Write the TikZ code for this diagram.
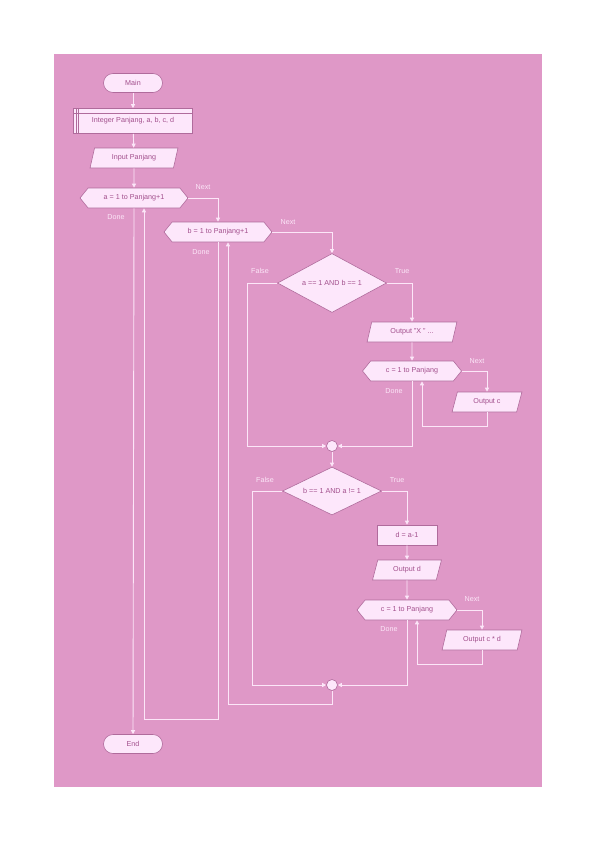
\documentclass[tikz,border=0pt]{standalone}
\usepackage{fontspec}
\setmainfont{Liberation Sans}
\usetikzlibrary{arrows.meta,shapes.geometric,shapes.symbols}
\definecolor{bgpink}{HTML}{DF98C7}
\definecolor{nodefill}{HTML}{FDE7FB}
\definecolor{nodeline}{HTML}{B06B9C}
\definecolor{nodetext}{HTML}{A24F8C}
\definecolor{wire}{HTML}{FCE6F8}
\tikzset{
    box/.style={draw=nodeline, fill=nodefill, text=nodetext, line width=0.6pt, inner sep=1bp,
        font=\fontsize{7.2}{8}\selectfont},
    terminal/.style={box, rectangle, rounded corners=9.5bp, minimum width=59bp, minimum height=19bp},
    declare/.style={box, rectangle, minimum width=119bp, minimum height=25bp,
        path picture={
            \draw[nodeline, line width=0.5pt] ([yshift=-4.5bp]path picture bounding box.north west) -- ([yshift=-4.5bp]path picture bounding box.north east);
            \draw[nodeline, line width=0.5pt] ([xshift=2.5bp]path picture bounding box.north west) -- ([xshift=2.5bp]path picture bounding box.south west);
            \draw[nodeline, line width=0.5pt] ([xshift=4.5bp]path picture bounding box.north west) -- ([xshift=4.5bp]path picture bounding box.south west);
        }},
    io/.style={box, trapezium, trapezium left angle=73, trapezium right angle=107, trapezium stretches=true,
        minimum height=20bp},
    loop/.style={box, signal, signal to=west and east, signal pointer angle=102, minimum height=20bp},
    decision/.style={box, diamond, inner sep=0pt},
    process/.style={box, rectangle, minimum width=60bp, minimum height=20bp},
    joint/.style={box, circle, minimum size=11bp, inner sep=0pt},
    lbl/.style={text=wire, inner sep=0pt, font=\fontsize{7.2}{8}\selectfont},
    wire/.style={draw=wire, line width=0.9pt, -{Triangle[length=4bp, width=4bp]}},
}
\begin{document}
\begin{tikzpicture}[x=1bp, y=-1bp]
    \useasboundingbox[fill=white] (0,0) rectangle (596,842);
    \fill[bgpink] (54,54) rectangle (542,787);

    \path (133,83)  node[terminal](main)  {Main};
    \path (133,121) node[declare](decl)   {Integer Panjang, a, b, c, d};
    \path (134,158) node[io, minimum width=88bp](inp) {Input Panjang};
    \path (134,198) node[loop, minimum width=108bp](fora) {a = 1 to Panjang+1};
    \path (218,232) node[loop, minimum width=108bp](forb) {b = 1 to Panjang+1};
    \path (332,283) node[decision, aspect=1.85, minimum width=109bp, minimum height=59bp](ifa) {a == 1 AND b == 1};
    \path (412,332) node[io, minimum width=90bp](outx)  {Output "X " ...};
    \path (412,371) node[loop, minimum width=99bp](forc1) {c = 1 to Panjang};
    \path (487,402) node[io, minimum width=70bp](outc)  {Output c};
    \path (332,446) node[joint](j1) {};
    \path (332,491) node[decision, aspect=2.06, minimum width=99bp, minimum height=48bp](ifb) {b == 1 AND a != 1};
    \path (407,535) node[process](dset) {d = a-1};
    \path (407,570) node[io, minimum width=69bp](outd)  {Output d};
    \path (407,610) node[loop, minimum width=100bp](forc2) {c = 1 to Panjang};
    \path (482,640) node[io, minimum width=80bp](outcd) {Output c * d};
    \path (332,685) node[joint](j2) {};
    \path (133,744) node[terminal](fin)   {End};

    \path (203,187) node[lbl](next1) {Next};
    \path (116,217) node[lbl](done1) {Done};
    \path (288,222) node[lbl](next2) {Next};
    \path (201,252) node[lbl](done2) {Done};
    \path (260,271) node[lbl](false1) {False};
    \path (402,271) node[lbl](true1) {True};
    \path (477,361) node[lbl](next3) {Next};
    \path (394,391) node[lbl](done3) {Done};
    \path (265,480) node[lbl](false2) {False};
    \path (397,480) node[lbl](true2) {True};
    \path (472,599) node[lbl](next4) {Next};
    \path (389,629) node[lbl](done4) {Done};

    \draw[wire] (main) -- (decl);
    \draw[wire] (decl) -- (inp);
    \draw[wire] (inp) -- (fora);
    \draw[wire] (fora.east) -| (forb.north);
    \draw[wire] (forb.east) -| (ifa.north);
    \draw[wire] (ifa.west) -- ++(-30,0) |- (j1);
    \draw[wire] (ifa.east) -| (outx.north);
    \draw[wire] (outx) -- (forc1);
    \draw[wire] (forc1.east) -| (outc.north);
    \draw[wire] (outc.south) -- ++(0,14) -| ([xshift=10bp]forc1.south);
    \draw[wire] (forc1.south) |- (j1);
    \draw[wire] (j1) -- (ifb);
    \draw[wire] (ifb.west) -- ++(-30,0) |- (j2);
    \draw[wire] (ifb.east) -| (dset.north);
    \draw[wire] (dset) -- (outd);
    \draw[wire] (outd) -- (forc2);
    \draw[wire] (forc2.east) -| (outcd.north);
    \draw[wire] (outcd.south) -- ++(0,14) -| ([xshift=10bp]forc2.south);
    \draw[wire] (forc2.south) |- (j2);
    \draw[wire] (j2.south) -- ++(0,14) -| ([xshift=10bp]forb.south);
    \draw[wire] (forb.south) -- ++(0,477) -| ([xshift=10bp]fora.south);
    \draw[wire] (fora.south) -- (fin);
\end{tikzpicture}
\end{document}
